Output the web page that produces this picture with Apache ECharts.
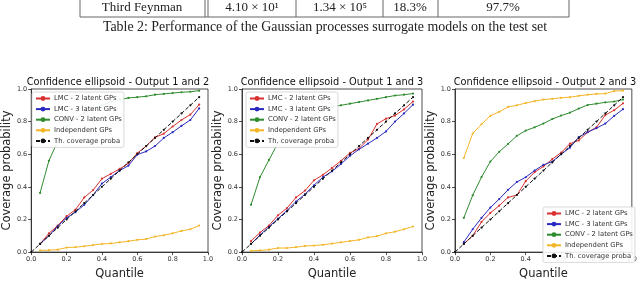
<!DOCTYPE html>
<html>
<head>
<meta charset="utf-8">
<script src="https://cdn.jsdelivr.net/npm/echarts@6/dist/echarts.min.js"></script>
<style>
html,body{margin:0;padding:0;background:#fff;}
#chart{width:640px;height:285px;}
</style>
</head>
<body>
<div id="chart"></div>
<script>
// ---- Data ----
const quantiles = [0.05,0.10,0.15,0.20,0.25,0.30,0.35,0.40,0.45,0.50,0.55,0.60,0.65,0.70,0.75,0.80,0.85,0.90,0.95];
const thQuantiles = [0,0.05,0.10,0.15,0.20,0.25,0.30,0.35,0.40,0.45,0.50,0.55,0.60,0.65,0.70,0.75,0.80,0.85,0.90,0.95];
const thCoverage  = [0,0.05,0.10,0.15,0.20,0.25,0.30,0.35,0.40,0.45,0.50,0.55,0.60,0.65,0.70,0.75,0.80,0.85,0.90,0.95];

const seriesNames = ['LMC - 2 latent GPs','LMC - 3 latent GPs','CONV - 2 latent GPs','Independent GPs','Th. coverage proba'];
const plotTitles = ['Confidence ellipsoid - Output 1 and 2','Confidence ellipsoid - Output 1 and 3','Confidence ellipsoid - Output 2 and 3'];
const tickLabels = ['0.0','0.2','0.4','0.6','0.8','1.0'];

// Output 1 and 2
const p12_lmc2  = [0.05,0.115,0.163,0.22,0.26,0.335,0.38,0.45,0.48,0.51,0.545,0.607,0.65,0.703,0.726,0.77,0.81,0.843,0.904];
const p12_lmc3  = [0.05,0.10,0.16,0.21,0.245,0.29,0.35,0.42,0.46,0.50,0.53,0.598,0.617,0.65,0.70,0.735,0.774,0.81,0.881];
const p12_conv  = [0.363,0.56,0.68,0.77,0.82,0.855,0.88,0.90,0.92,0.935,0.945,0.95,0.955,0.965,0.97,0.975,0.98,0.983,0.99];
const p12_indep = [0.01,0.012,0.015,0.028,0.03,0.036,0.043,0.05,0.053,0.06,0.067,0.075,0.08,0.095,0.103,0.115,0.13,0.14,0.163];

// Output 1 and 3
const p13_lmc2  = [0.067,0.12,0.163,0.226,0.27,0.335,0.377,0.44,0.474,0.516,0.56,0.608,0.635,0.69,0.786,0.818,0.837,0.875,0.923];
const p13_lmc3  = [0.05,0.105,0.155,0.205,0.255,0.31,0.355,0.41,0.46,0.495,0.54,0.59,0.63,0.665,0.70,0.74,0.80,0.85,0.904];
const p13_conv  = [0.29,0.46,0.565,0.67,0.73,0.77,0.81,0.84,0.87,0.89,0.90,0.91,0.92,0.93,0.94,0.95,0.96,0.965,0.972];
const p13_indep = [0.008,0.01,0.015,0.025,0.025,0.03,0.038,0.04,0.045,0.052,0.06,0.068,0.075,0.09,0.098,0.115,0.125,0.14,0.157];

// Output 2 and 3
const p23_lmc2  = [0.05,0.10,0.185,0.24,0.285,0.335,0.35,0.435,0.49,0.525,0.57,0.61,0.665,0.685,0.735,0.765,0.84,0.87,0.912];
const p23_lmc3  = [0.061,0.14,0.21,0.273,0.325,0.382,0.43,0.459,0.50,0.535,0.555,0.60,0.64,0.705,0.735,0.76,0.788,0.835,0.876];
const p23_conv  = [0.21,0.348,0.46,0.555,0.615,0.663,0.713,0.745,0.765,0.788,0.816,0.837,0.855,0.88,0.902,0.91,0.918,0.923,0.935];
const p23_indep = [0.577,0.727,0.784,0.836,0.86,0.89,0.90,0.914,0.925,0.935,0.94,0.946,0.95,0.958,0.965,0.97,0.972,0.987,0.99];

const tableRow = ['Third Feynman','4.10 × 10¹','1.34 × 10⁵','18.3%','97.7%'];
const captionText = 'Table 2: Performance of the Gaussian processes surrogate models on the test set';

// ---- Styles ----
const colors = ['#d93030','#2a2ac0','#2e8b2e','#f2b526','#111111'];
const gridLefts = [28, 242, 455];
const gridTop = 89, gridW = 180, gridH = 174;
const font = 'DejaVu Sans';

const plots = [
  [p12_lmc2,p12_lmc3,p12_conv,p12_indep],
  [p13_lmc2,p13_lmc3,p13_conv,p13_indep],
  [p23_lmc2,p23_lmc3,p23_conv,p23_indep]
];

const zip = (xs, ys) => xs.map((x,i)=>[x, ys[i]]);

const grids = [], xAxes = [], yAxes = [], series = [], legends = [], graphics = [];

gridLefts.forEach((left, gi) => {
  grids.push({left: left, top: gridTop, width: gridW, height: gridH, show: true,
    borderColor: '#222', borderWidth: 0.8, backgroundColor: 'transparent'});
  const axisCommon = {
    gridIndex: gi, type: 'value', min: 0, max: 1, interval: 0.2,
    axisLine: {show: true, onZero: false, lineStyle: {color: '#222', width: 0.8}},
    axisTick: {show: true, inside: false, length: 3, lineStyle: {color: '#222', width: 0.8}},
    splitLine: {show: false},
    axisLabel: {fontFamily: font, fontSize: 6.5, color: '#333', margin: 4,
      formatter: v => tickLabels[Math.round(v/0.2)]},
    nameTextStyle: {fontFamily: font, fontSize: 11.5, color: '#222'},
    nameLocation: 'middle'
  };
  xAxes.push(Object.assign({}, axisCommon, {name: 'Quantile', nameGap: 15}));
  yAxes.push(Object.assign({}, axisCommon, {name: 'Coverage probability', nameGap: 15}));

  plots[gi].forEach((vals, si) => {
    series.push({
      name: seriesNames[si], type: 'line', xAxisIndex: gi, yAxisIndex: gi,
      data: zip(quantiles, vals), symbol: 'circle', symbolSize: 2.2,
      showSymbol: true, animation: false,
      lineStyle: {color: colors[si], width: 1},
      itemStyle: {color: colors[si]}, z: 2
    });
  });
  series.push({
    name: seriesNames[4], type: 'line', xAxisIndex: gi, yAxisIndex: gi,
    data: zip(thQuantiles, thCoverage), symbol: 'circle', symbolSize: 2.2,
    animation: false,
    lineStyle: {color: colors[4], width: 1, type: [4,2]},
    itemStyle: {color: colors[4]}, z: 3
  });

  graphics.push({type: 'text', x: left + gridW/2, y: 82, style: {
    text: plotTitles[gi], fontFamily: font, fontSize: 9.8, fill: '#111',
    textAlign: 'center', textVerticalAlign: 'middle'}});
});

const legendCommon = {
  data: seriesNames, orient: 'vertical', selectedMode: false,
  itemWidth: 14, itemHeight: 6, itemGap: 3.6,
  textStyle: {fontFamily: font, fontSize: 6.8, color: '#333', padding: [0,0,0,-1]},
  borderColor: '#cfcfcf', borderWidth: 0.8, borderRadius: 2,
  backgroundColor: 'rgba(255,255,255,0.9)', padding: [3,2,3,3], z: 10
};
legends.push(Object.assign({}, legendCommon, {left: 32, top: 92}));
legends.push(Object.assign({}, legendCommon, {left: 246, top: 92}));
legends.push(Object.assign({}, legendCommon, {left: 543, top: 207}));

// ---- Table fragment ----
const tblY1 = 0, tblY2 = 17;
const vlines = [80, 205, 208, 296, 383, 438, 569];
vlines.forEach(x => graphics.push({type: 'line', shape: {x1: x, y1: tblY1, x2: x, y2: tblY2},
  style: {stroke: '#666', lineWidth: 1}}));
graphics.push({type: 'line', shape: {x1: 80, y1: tblY2, x2: 569, y2: tblY2}, style: {stroke: '#666', lineWidth: 1}});
const cellCenters = [142, 252, 340, 410, 503];
tableRow.forEach((t, i) => graphics.push({type: 'text', x: cellCenters[i], y: 8,
  style: {text: t, fontFamily: 'Liberation Serif', fontSize: 13, fill: '#222', textAlign: 'center', textVerticalAlign: 'middle'}}));
graphics.push({type: 'text', x: 325, y: 27, style: {text: captionText, fontFamily: 'Liberation Serif',
  fontSize: 13.9, fill: '#222', textAlign: 'center', textVerticalAlign: 'middle'}});

const chart = echarts.init(document.getElementById('chart'), null, {renderer: 'canvas'});
chart.setOption({
  animation: false,
  grid: grids, xAxis: xAxes, yAxis: yAxes, series: series, legend: legends, graphic: graphics
});
</script>
</body>
</html>
